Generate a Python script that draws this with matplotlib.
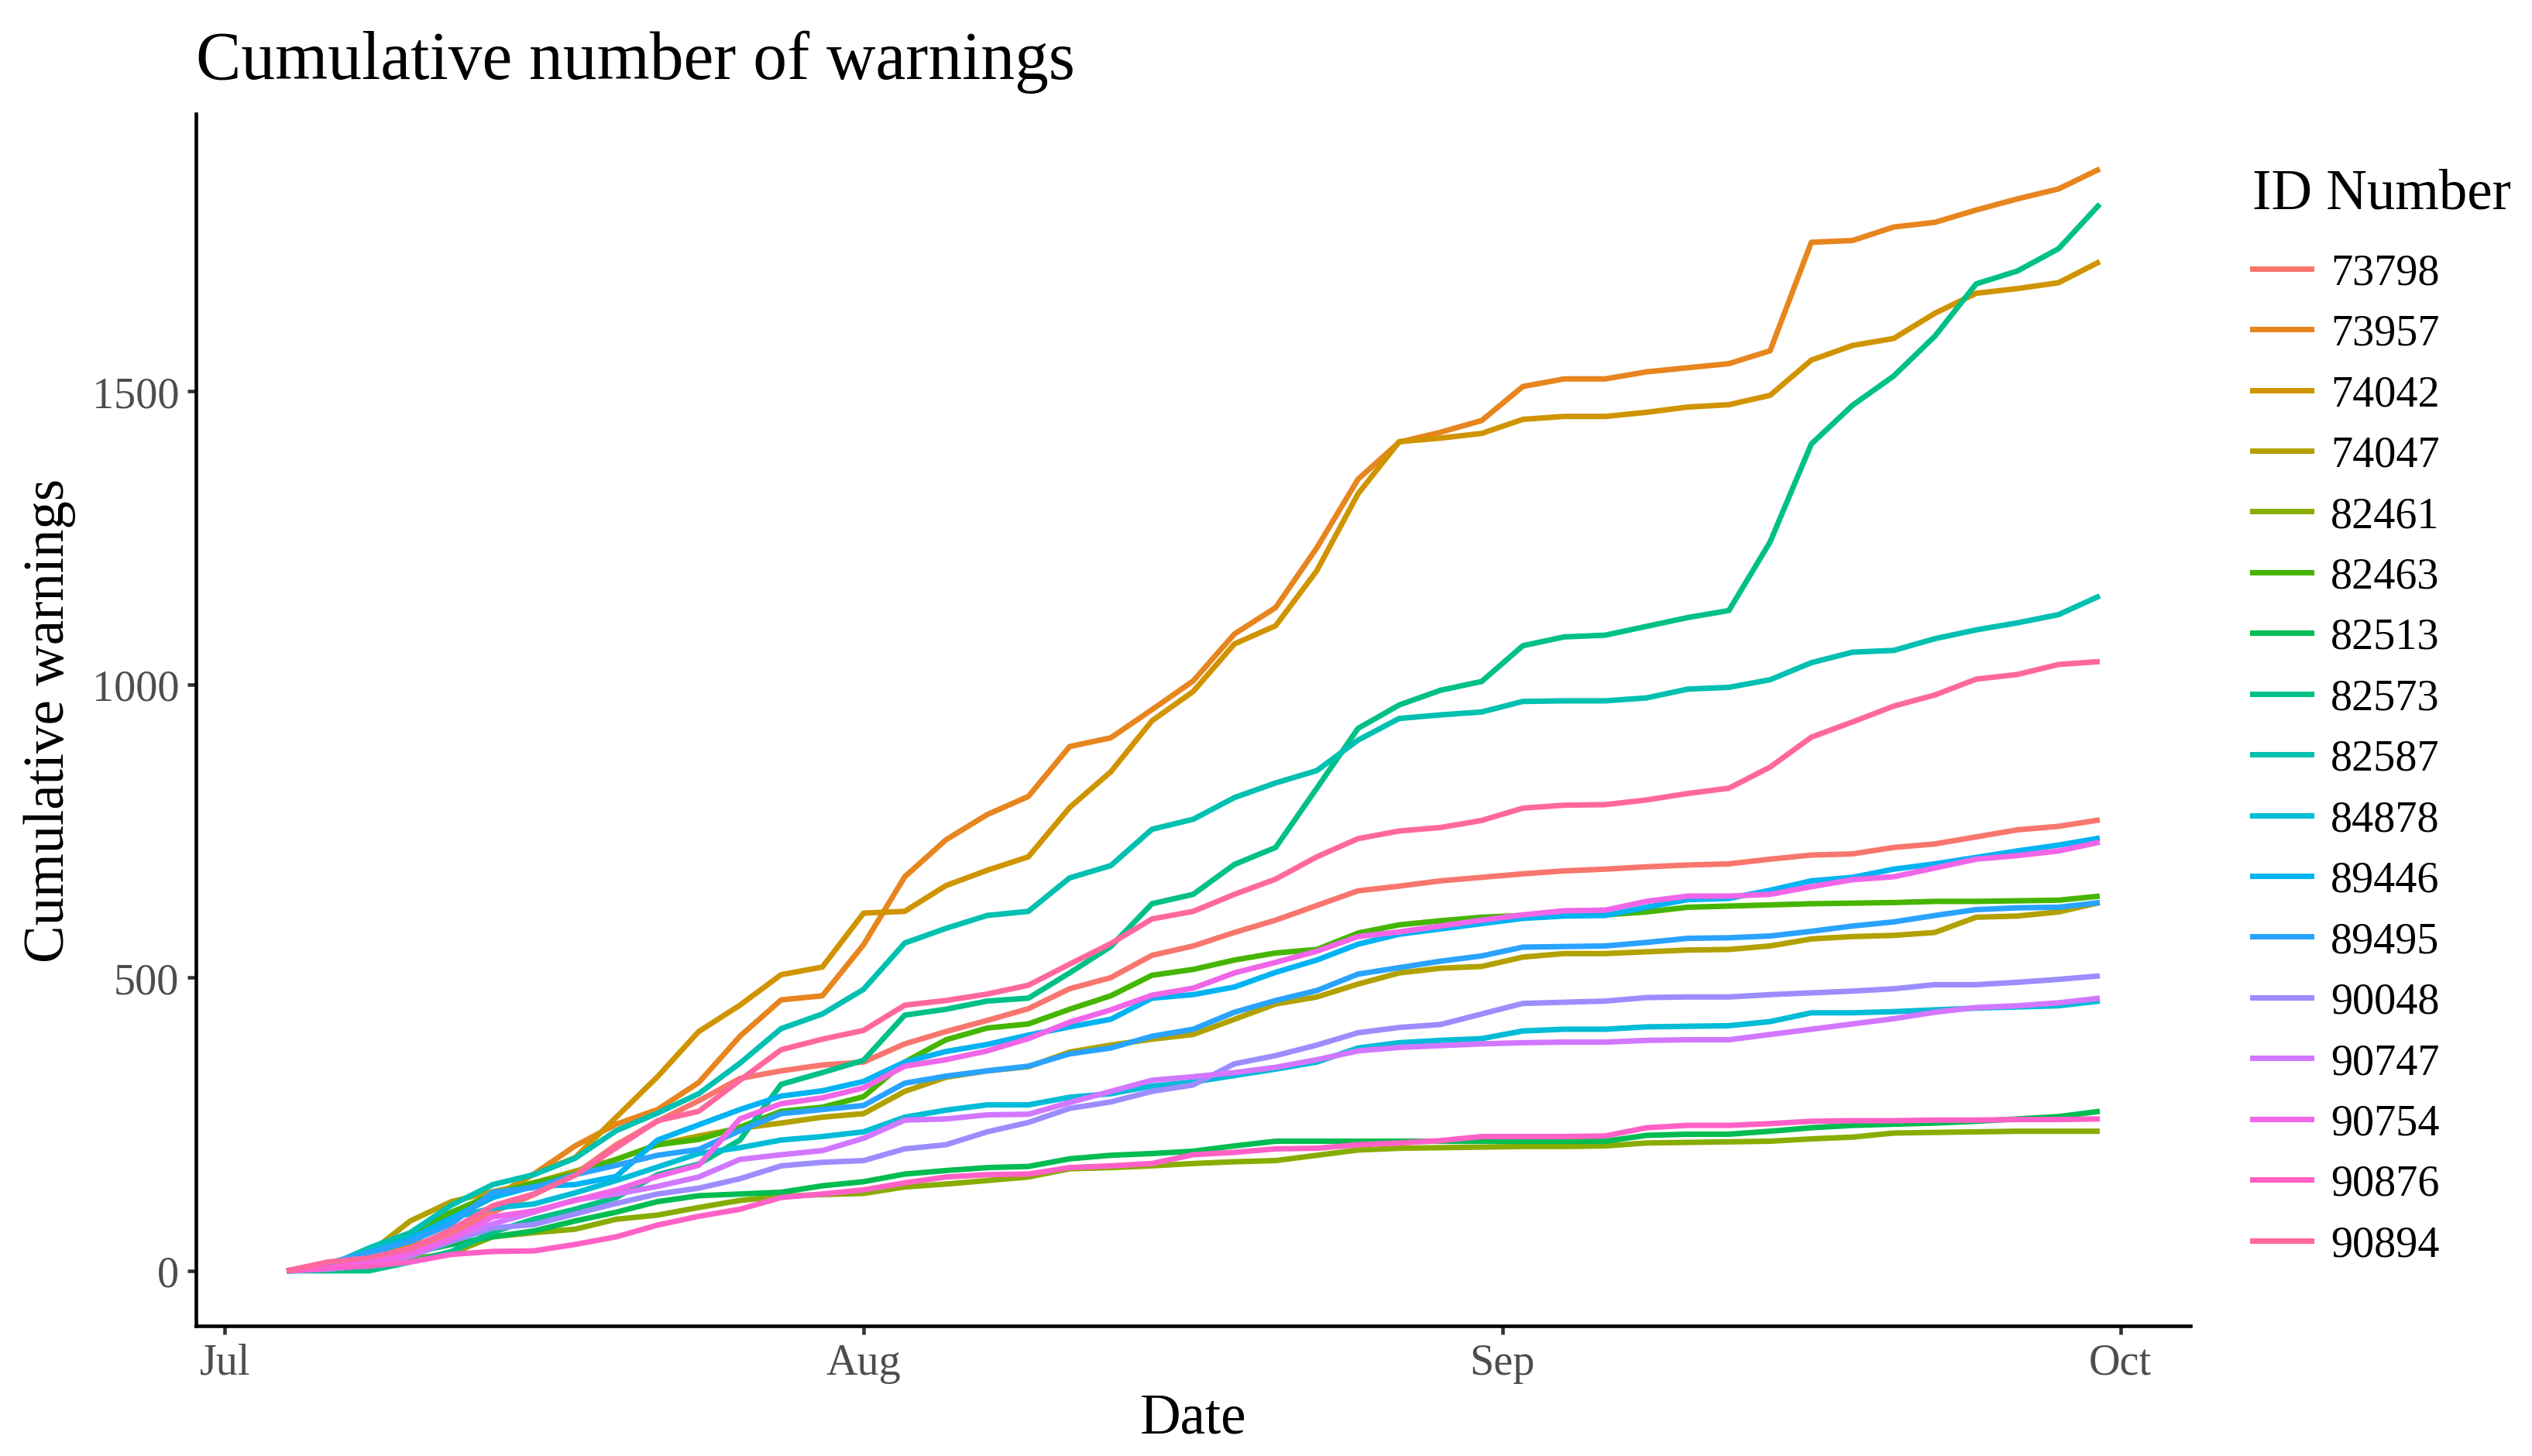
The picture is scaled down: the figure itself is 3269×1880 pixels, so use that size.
import numpy as np
import pandas as pd
import matplotlib
matplotlib.use('Agg')
import matplotlib.pyplot as plt
import matplotlib.dates as mdates
from matplotlib.lines import Line2D

plt.rcParams['font.family'] = ['Liberation Serif', 'DejaVu Serif']

# days after 4 July (every second day)
day_offset = [0, 2, 4, 6, 8, 10, 12, 14, 16, 18, 20, 22, 24, 26, 28, 30, 32, 34, 36, 38,
              40, 42, 44, 46, 48, 50, 52, 54, 56, 58, 60, 62, 64, 66, 68, 70, 72, 74, 76, 78,
              80, 82, 84, 86, 88]
dates = pd.Timestamp('2020-07-04') + pd.to_timedelta(day_offset, unit='D')

ids = ['73798', '73957', '74042', '74047', '82461', '82463', '82513', '82573', '82587',
       '84878', '89446', '89495', '90048', '90747', '90754', '90876', '90894']

w73798 = [0, 5, 15, 35, 65, 100, 130, 165, 215, 255, 290, 328, 341, 351, 356, 387, 408, 427, 447, 481,
          500, 538, 554, 577, 598, 623, 648, 656, 665, 671, 677, 682, 685, 689, 692, 694, 702, 709, 711, 722,
          728, 740, 752, 758, 769]
w73957 = [0, 5, 20, 45, 90, 125, 165, 213, 250, 275, 321, 400, 462, 469, 556, 672, 735, 778, 809, 894,
          909, 957, 1006, 1086, 1131, 1233, 1350, 1413, 1430, 1450, 1508, 1521, 1521, 1533, 1540, 1547, 1569, 1754, 1757, 1780,
          1788, 1809, 1828, 1845, 1879]
w74042 = [0, 5, 20, 50, 90, 125, 165, 193, 262, 331, 408, 453, 505, 518, 610, 613, 657, 683, 706, 790,
          851, 938, 988, 1069, 1100, 1194, 1325, 1414, 1420, 1428, 1452, 1457, 1457, 1464, 1473, 1477, 1493, 1553, 1578, 1590,
          1633, 1667, 1675, 1685, 1721]
w74047 = [0, 5, 30, 85, 118, 135, 150, 170, 190, 215, 230, 243, 252, 262, 268, 306, 330, 341, 348, 373,
          385, 395, 403, 429, 455, 467, 489, 508, 516, 519, 535, 541, 541, 544, 547, 548, 554, 566, 570, 572,
          577, 603, 605, 612, 628]
w82461 = [0, 3, 10, 20, 30, 58, 65, 71, 88, 95, 108, 120, 127, 130, 132, 143, 148, 154, 160, 174,
          176, 179, 183, 186, 188, 197, 206, 209, 210, 211, 212, 212, 213, 218, 219, 220, 221, 225, 228, 235,
          236, 237, 238, 238, 238]
w82463 = [0, 3, 20, 65, 100, 130, 150, 165, 190, 215, 224, 245, 272, 279, 297, 356, 394, 414, 421, 446,
          469, 504, 514, 530, 542, 548, 576, 590, 597, 603, 606, 607, 607, 612, 620, 622, 624, 626, 627, 628,
          630, 630, 631, 632, 639]
w82513 = [0, 2, 12, 30, 45, 58, 68, 85, 100, 118, 128, 131, 134, 145, 152, 165, 171, 176, 178, 191,
          197, 200, 204, 213, 221, 221, 221, 221, 221, 221, 221, 221, 221, 231, 233, 233, 238, 244, 248, 250,
          252, 255, 259, 263, 272]
w82573 = [0, 0, 0, 15, 33, 66, 88, 105, 125, 164, 182, 223, 318, 338, 359, 436, 446, 460, 465, 508,
          553, 626, 642, 693, 722, 823, 925, 965, 990, 1005, 1066, 1081, 1084, 1099, 1114, 1126, 1243, 1410, 1476, 1526,
          1594, 1683, 1705, 1743, 1819]
w82587 = [0, 8, 39, 65, 112, 147, 164, 192, 239, 269, 302, 354, 413, 438, 480, 559, 584, 606, 613, 670,
          691, 753, 770, 807, 832, 853, 905, 942, 948, 953, 971, 972, 972, 977, 992, 995, 1008, 1037, 1055, 1058,
          1078, 1093, 1105, 1119, 1151]
w84878 = [0, 8, 33, 55, 90, 107, 114, 133, 154, 177, 200, 210, 223, 229, 237, 262, 274, 283, 283, 296,
          302, 315, 322, 333, 344, 356, 380, 389, 393, 396, 409, 412, 412, 416, 417, 418, 425, 440, 440, 442,
          445, 448, 450, 452, 460]
w89446 = [0, 10, 25, 55, 90, 125, 144, 147, 161, 223, 249, 275, 298, 307, 323, 356, 374, 386, 402, 416,
          429, 465, 471, 484, 509, 530, 557, 574, 583, 592, 601, 605, 606, 620, 633, 635, 649, 665, 671, 685,
          694, 705, 716, 726, 738]
w89495 = [0, 13, 31, 50, 80, 134, 142, 164, 180, 197, 207, 239, 268, 275, 282, 320, 332, 341, 349, 370,
          380, 400, 412, 441, 461, 478, 506, 517, 528, 537, 552, 553, 554, 560, 567, 568, 571, 579, 588, 595,
          606, 616, 619, 620, 628]
w90048 = [0, 3, 10, 25, 50, 73, 79, 97, 115, 131, 141, 157, 179, 185, 188, 208, 215, 237, 253, 277,
          288, 306, 317, 353, 367, 385, 406, 415, 420, 438, 456, 458, 460, 466, 467, 467, 471, 474, 477, 481,
          488, 488, 492, 497, 503]
w90747 = [0, 3, 10, 28, 55, 80, 100, 121, 131, 144, 160, 190, 198, 205, 226, 257, 259, 266, 267, 287,
          306, 325, 331, 338, 347, 360, 375, 381, 384, 387, 389, 390, 390, 393, 394, 394, 403, 412, 421, 430,
          441, 449, 452, 457, 465]
w90754 = [0, 5, 15, 28, 55, 92, 102, 120, 138, 161, 180, 259, 285, 295, 312, 349, 360, 375, 396, 424,
          445, 470, 482, 508, 526, 545, 570, 578, 588, 598, 607, 614, 615, 630, 639, 639, 642, 655, 667, 672,
          687, 702, 708, 716, 731]
w90876 = [0, 5, 8, 15, 28, 33, 34, 45, 58, 78, 93, 105, 125, 131, 138, 150, 160, 164, 165, 176,
          179, 183, 198, 202, 208, 209, 215, 218, 222, 229, 229, 229, 230, 244, 248, 248, 251, 255, 256, 256,
          257, 257, 258, 258, 259]
w90894 = [0, 15, 22, 38, 70, 111, 131, 163, 210, 256, 272, 325, 377, 395, 410, 453, 461, 472, 487, 523,
          558, 600, 613, 642, 668, 706, 737, 750, 756, 768, 789, 794, 795, 803, 814, 823, 859, 910, 936, 963,
          982, 1009, 1017, 1034, 1039]

series = [w73798, w73957, w74042, w74047, w82461, w82463, w82513, w82573, w82587,
          w84878, w89446, w89495, w90048, w90747, w90754, w90876, w90894]


# ggplot2 default hue palette (HCL, c=100, l=65)
def hue_pal(n, c=100, l=65):
    hues = np.linspace(15, 375, n + 1)[:-1] % 360
    un, vn = 0.1978398, 0.4683363
    Y = ((l + 16) / 116) ** 3
    cols = []
    for h in hues:
        u = c * np.cos(np.radians(h))
        v = c * np.sin(np.radians(h))
        up = u / (13 * l) + un
        vp = v / (13 * l) + vn
        X = Y * 9 * up / (4 * vp)
        Z = Y * (12 - 3 * up - 20 * vp) / (4 * vp)
        lin = [3.2404542 * X - 1.5371385 * Y - 0.4985314 * Z,
               -0.9692660 * X + 1.8760108 * Y + 0.0415560 * Z,
               0.0556434 * X - 0.2040259 * Y + 1.0572252 * Z]
        rgb = []
        for ch in lin:
            ch = 12.92 * ch if ch <= 0.0031308 else 1.055 * ch ** (1 / 2.4) - 0.055
            rgb.append(min(max(ch, 0), 1))
        cols.append(tuple(rgb))
    return cols


colors = hue_pal(len(ids))

fig = plt.figure(figsize=(3269 / 300, 1881 / 300), dpi=300)
ax = fig.add_axes([0.0774, 0.0893, 0.7877, 0.832])

for vals, col in zip(series, colors):
    ax.plot(dates, vals, color=col, lw=1.7, solid_capstyle='butt')

ax.margins(x=0.05, y=0.05)
ax.set_yticks([0, 500, 1000, 1500])
ax.xaxis.set_major_locator(mdates.MonthLocator())
ax.xaxis.set_major_formatter(mdates.DateFormatter('%b'))

for s in ['top', 'right']:
    ax.spines[s].set_visible(False)
for s in ['left', 'bottom']:
    ax.spines[s].set_linewidth(1.1)
    ax.spines[s].set_color('black')
ax.tick_params(axis='both', color='#333333', width=1.1, length=2.75, pad=2.5,
               labelcolor='#4D4D4D', labelsize=13.5)

ax.set_xlabel('Date', fontsize=17.5, labelpad=3)
ax.set_ylabel('Cumulative warnings', fontsize=17.5, labelpad=5)
ax.set_title('Cumulative number of warnings', fontsize=21, loc='left', pad=11)

handles = [Line2D([], [], color=c, lw=1.7) for c in colors]
leg = fig.legend(handles, ids, loc='upper left', bbox_to_anchor=(0.8895, 0.884),
                 frameon=False, title='ID Number', fontsize=13.5, title_fontsize=17.5,
                 handlelength=1.35, handletextpad=0.45, labelspacing=0.47,
                 alignment='left', borderaxespad=0, borderpad=0)
leg._legend_box.sep = 10

fig.savefig('out.png', dpi=300)
